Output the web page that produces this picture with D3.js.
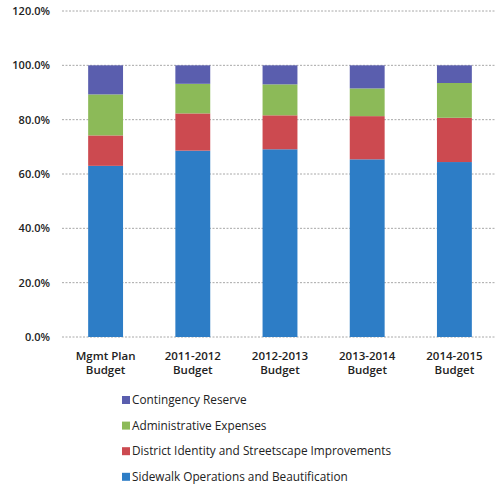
<!DOCTYPE html>
<html><head><meta charset="utf-8">
<script src="https://cdn.jsdelivr.net/npm/d3@7"></script>
<style>body{margin:0;background:#fff}svg{display:block}text{font-family:"Open Sans",sans-serif;fill:#222}</style>
</head><body><svg id="c" width="495" height="486"></svg>
<script>
const categories = [["Mgmt Plan","Budget"],["2011-2012","Budget"],["2012-2013","Budget"],["2013-2014","Budget"],["2014-2015","Budget"]];
const seriesNames = ["Sidewalk Operations and Beautification","District Identity and Streetscape Improvements","Administrative Expenses","Contingency Reserve"];
const sidewalk = [63.0, 68.6, 69.1, 65.4, 64.4];
const district = [11.2, 13.7, 12.5, 15.9, 16.3];
const admin = [15.1, 10.9, 11.4, 10.2, 12.8];
const contingency = [10.7, 6.8, 7.0, 8.5, 6.5];
const yTicks = [0, 20, 40, 60, 80, 100, 120];
const colors = ["#2d7dc6", "#cc4a50", "#8cba58", "#5a5eae"];

(function () {
const svg = d3.select("#c");
const mL = 62, mR = 498, mT = 11, mB = 337;
const keys = categories.map(c => c.join(" "));
const x = d3.scaleBand().domain(keys).range([mL, mR]).paddingInner(0.6).paddingOuter(0.3);
const y = d3.scaleLinear().domain([0, 120]).range([mB, mT]);

svg.append("g").selectAll("line").data(yTicks).join("line")
  .attr("x1", mL).attr("x2", 495).attr("y1", d => y(d)).attr("y2", d => y(d))
  .attr("stroke", "#a8a8a8").attr("stroke-width", 1).attr("stroke-dasharray", "2,1.5");

const yAxis = d3.axisLeft(y).tickValues(yTicks).tickSize(0).tickPadding(0).tickFormat(d => d.toFixed(1) + "%");
const ga = svg.append("g").attr("transform", "translate(50,0)").call(yAxis);
ga.select(".domain").remove();
ga.selectAll("text").attr("font-size", 11).attr("font-weight", 600).style("font-family", '"Open Sans",sans-serif').attr("fill", "#222");

const rows = keys.map((k, i) => ({key: k, s0: sidewalk[i], s1: district[i], s2: admin[i], s3: contingency[i]}));
const stack = d3.stack().keys(["s0","s1","s2","s3"])(rows);
svg.append("g").selectAll("g").data(stack).join("g").attr("fill", (d, i) => colors[i])
  .selectAll("rect").data(d => d).join("rect")
  .attr("x", d => x(d.data.key)).attr("width", x.bandwidth())
  .attr("y", d => y(d[1])).attr("height", d => y(d[0]) - y(d[1]));

const xl = svg.append("g").selectAll("text").data(categories).join("text")
  .attr("x", (d, i) => x(keys[i]) + x.bandwidth() / 2).attr("y", 360)
  .attr("text-anchor", "middle").attr("font-size", 11.5).attr("font-weight", 600);
xl.append("tspan").attr("x", (d, i) => x(keys[i]) + x.bandwidth() / 2).text(d => d[0]);
xl.append("tspan").attr("x", (d, i) => x(keys[i]) + x.bandwidth() / 2).attr("dy", 13.5).text(d => d[1]);

const legendOrder = [3, 2, 1, 0];
const lg = svg.append("g").selectAll("g").data(legendOrder).join("g")
  .attr("transform", (d, i) => `translate(122,${400 + i * 25.6})`);
lg.append("rect").attr("x", 0).attr("y", -4).attr("width", 8).attr("height", 8).attr("fill", d => colors[d]);
lg.append("text").attr("x", 10).attr("y", 4.2).attr("font-size", 11.8).attr("font-weight", 500).text(d => seriesNames[d]);
})();
</script></body></html>
